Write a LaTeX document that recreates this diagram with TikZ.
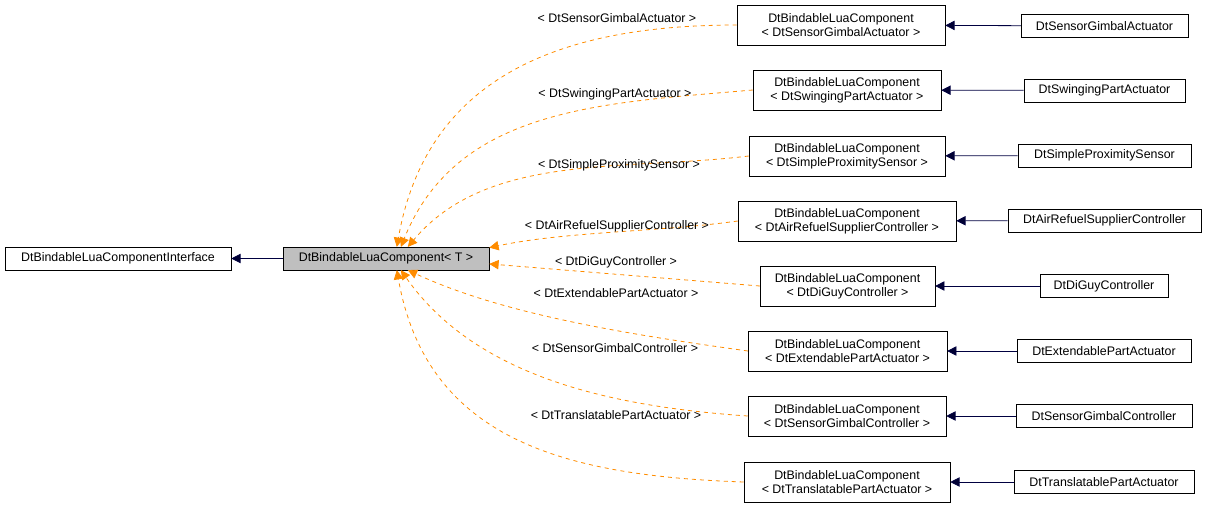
\documentclass[tikz,border=0pt]{standalone}
\usepackage{fontspec}
\setmainfont{Liberation Sans}
\usetikzlibrary{positioning}
\usetikzlibrary{arrows.meta}

\begin{document}
\begin{tikzpicture}[x=0.75pt,y=-0.75pt,
    every node/.style={font=\fontsize{9.3}{10.5}\selectfont},
    box/.style={draw, rectangle, inner sep=0pt, minimum height=17pt, align=center},
    tbox/.style={draw, rectangle, inner sep=0pt, minimum height=30pt, align=center},
    inh/.style={-{Triangle[open,length=7pt,width=7pt,fill=black!80!blue]}, color=black!60!blue!90, draw=blue!25!black, line width=0.6pt},
    tmpl/.style={-{Triangle[length=7pt,width=7pt]}, color=orange!90!yellow, dashed, line width=0.6pt},
    lbl/.style={inner sep=1pt}]
  \useasboundingbox (0,0) rectangle (1208,508);
  % Nodos
  \node[box, minimum width=169.5pt] (iface) at (118,258.5) {DtBindableLuaComponentInterface};
  \node[box, minimum width=154.5pt, fill=black!25] (T) at (386,258.5) {DtBindableLuaComponent< T >};

  \node[tbox, minimum width=156pt] (m1) at (841,25) {DtBindableLuaComponent\\< DtSensorGimbalActuator >};
  \node[tbox, minimum width=141pt] (m2) at (847,90) {DtBindableLuaComponent\\< DtSwingingPartActuator >};
  \node[tbox, minimum width=147pt] (m3) at (847,156) {DtBindableLuaComponent\\< DtSimpleProximitySensor >};
  \node[tbox, minimum width=163.5pt] (m4) at (847,221) {DtBindableLuaComponent\\< DtAirRefuelSupplierController >};
  \node[tbox, minimum width=131pt] (m5) at (847.5,286) {DtBindableLuaComponent\\< DtDiGuyController >};
  \node[tbox, minimum width=149pt] (m6) at (847.5,351) {DtBindableLuaComponent\\< DtExtendablePartActuator >};
  \node[tbox, minimum width=148.5pt] (m7) at (847,416) {DtBindableLuaComponent\\< DtSensorGimbalController >};
  \node[tbox, minimum width=154.5pt] (m8) at (847,482) {DtBindableLuaComponent\\< DtTranslatablePartActuator >};

  \node[box, minimum width=125pt] (r1) at (1104.5,26) {DtSensorGimbalActuator};
  \node[box, minimum width=121pt] (r2) at (1104.5,90.5) {DtSwingingPartActuator};
  \node[box, minimum width=130pt] (r3) at (1104.5,155.5) {DtSimpleProximitySensor};
  \node[box, minimum width=145pt] (r4) at (1104.5,220.5) {DtAirRefuelSupplierController};
  \node[box, minimum width=96pt] (r5) at (1104,286) {DtDiGuyController};
  \node[box, minimum width=130.5pt] (r6) at (1104,351) {DtExtendablePartActuator};
  \node[box, minimum width=132pt] (r7) at (1104,416) {DtSensorGimbalController};
  \node[box, minimum width=135pt] (r8) at (1104,482) {DtTranslatablePartActuator};

  % Aristas
  \draw[inh] (T) -- (iface);
  \foreach \i in {1,...,8}
    \draw[inh] (r\i) -- (m\i);

  \draw[tmpl] (m1.west) to[out=180,in=80,looseness=1.1] (T.47);
  \draw[tmpl] (m2.west) to[out=185,in=68,looseness=1.0] (T.38);
  \draw[tmpl] (m3.west) to[out=187,in=50,looseness=0.9] (T.28);
  \draw[tmpl] (m4.west) to[out=188,in=12,looseness=0.8] (T.6);
  \draw[tmpl] (m5.west) -- (T.-3);
  \draw[tmpl] (m6.west) to[out=172,in=-25,looseness=0.8] (T.-28);
  \draw[tmpl] (m7.west) to[out=176,in=-55,looseness=0.9] (T.-38);
  \draw[tmpl] (m8.west) to[out=178,in=-80,looseness=1.1] (T.-47);

  \node[lbl] (l1) at (617,18) {< DtSensorGimbalActuator >};
  \node[lbl] (l2) at (615,94) {< DtSwingingPartActuator >};
  \node[lbl] (l3) at (619,165) {< DtSimpleProximitySensor >};
  \node[lbl] (l4) at (617,226) {< DtAirRefuelSupplierController >};
  \node[lbl] (l5) at (616,262) {< DtDiGuyController >};
  \node[lbl] (l6) at (616,293) {< DtExtendablePartActuator >};
  \node[lbl] (l7) at (615,348) {< DtSensorGimbalController >};
  \node[lbl] (l8) at (616,415) {< DtTranslatablePartActuator >};
\end{tikzpicture}
\end{document}
